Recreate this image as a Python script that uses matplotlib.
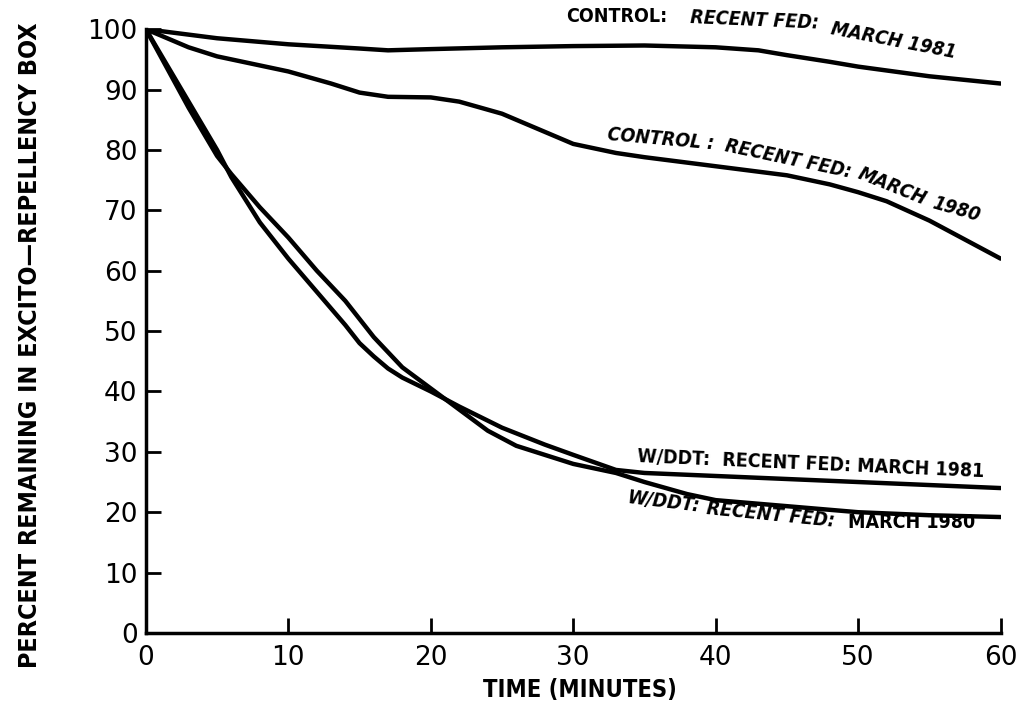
import numpy as np
import matplotlib
matplotlib.use("Agg")
from matplotlib import pyplot as plt
from matplotlib import font_manager as fm

# values (minutes, percent remaining)
ctrl81_t = [0, 5, 10, 15, 17, 20, 25, 30, 35, 40, 43, 45, 48, 50, 55, 60]
ctrl81_v = [100, 98.5, 97.5, 96.8, 96.5, 96.7, 97.0, 97.2, 97.3, 97.0, 96.5, 95.7, 94.6, 93.8, 92.2, 91.0]

ctrl80_t = [0, 3, 5, 8, 10, 13, 15, 17, 20, 22, 25, 27, 29, 30, 33, 35, 40, 45, 48, 50, 52, 55, 60]
ctrl80_v = [100, 97, 95.5, 94, 93, 91, 89.5, 88.8, 88.7, 88, 86, 84, 82, 81, 79.5, 78.8, 77.3, 75.8, 74.3, 73, 71.5, 68.3, 62]

ddt81_t = [0, 3, 5, 6, 8, 10, 12, 14, 15, 16, 17, 18, 20, 22, 25, 28, 30, 33, 35, 40, 45, 50, 55, 60]
ddt81_v = [100, 88, 80, 75.5, 68, 62, 56.5, 51, 48, 45.8, 43.8, 42.3, 40, 37.5, 34, 31.2, 29.5, 27, 26.5, 26, 25.5, 25, 24.5, 24]

ddt80_t = [0, 3, 5, 6, 8, 10, 12, 14, 16, 18, 20, 22, 24, 26, 28, 30, 33, 35, 38, 40, 45, 50, 55, 60]
ddt80_v = [100, 87, 79, 76, 70.5, 65.5, 60, 55, 49, 44, 40.5, 37, 33.5, 31, 29.5, 28, 26.5, 25, 23, 22, 21, 20, 19.5, 19.2]

x_ticks = [0, 10, 20, 30, 40, 50, 60]
y_ticks = [0, 10, 20, 30, 40, 50, 60, 70, 80, 90, 100]

# narrow bold face for the lettering, if one is installed
narrow = [f for f in fm.fontManager.ttflist
          if 'Narrow' in f.name or 'condensed' in str(f.stretch)]
if narrow:
    cond = dict(family=[narrow[0].name, 'DejaVu Sans'], fontstretch='condensed')
    lsize = 14
else:
    cond = dict(family=['Liberation Sans', 'DejaVu Sans'])
    lsize = 12

fig = plt.figure(figsize=(10.2, 7.12), dpi=100)
ax = fig.add_axes([0.143, 0.111, 0.838, 0.848])

for t, v in [(ctrl81_t, ctrl81_v), (ctrl80_t, ctrl80_v), (ddt81_t, ddt81_v), (ddt80_t, ddt80_v)]:
    ax.plot(t, v, color='black', lw=3.2, solid_joinstyle='round', solid_capstyle='round')

ax.set_xlim(0, 60)
ax.set_ylim(0, 100)
ax.spines['top'].set_visible(False)
ax.spines['right'].set_visible(False)
ax.spines['left'].set_linewidth(2.5)
ax.spines['bottom'].set_linewidth(2.5)
ax.set_xticks(x_ticks)
ax.set_yticks(y_ticks)
ax.tick_params(direction='in', length=11, width=2, labelsize=19)
ax.tick_params(axis='y', pad=6)
ax.tick_params(axis='x', pad=9)

ax.set_xlabel('TIME (MINUTES)', fontweight='bold', fontsize=lsize + 3, **cond)
ax.xaxis.set_label_coords(0.508, -0.075)
ax.set_ylabel('PERCENT REMAINING IN EXCITO\u2014REPELLENCY BOX',
              fontweight='bold', fontsize=lsize + 4, **cond)
ax.yaxis.set_label_coords(-0.122, 0.477)

# curve labels, pieces rotated to follow the lines
lab = dict(fontweight='bold', fontsize=lsize, color='black', clip_on=False,
           ha='left', va='baseline', rotation_mode='anchor', **cond)
ax.text(29.5, 101.2, 'CONTROL:', rotation=0, **lab)
ax.text(38.2, 101.0, 'RECENT FED:', rotation=-2.5, fontstyle='italic', **lab)
ax.text(48.0, 99.2, 'MARCH 1981', rotation=-11, fontstyle='italic', **lab)

ax.text(32.35, 81.6, 'CONTROL :', rotation=-5, fontstyle='italic', **lab)
ax.text(40.6, 79.9, 'RECENT FED:', rotation=-12, fontstyle='italic', **lab)
ax.text(49.9, 75.4, 'MARCH', rotation=-22, fontstyle='italic', **lab)
ax.text(55.1, 70.4, '1980', rotation=-16, fontstyle='italic', **lab)

ax.text(34.5, 28.3, 'W/DDT:  RECENT FED: MARCH 1981', rotation=-2.5, **lab)

ax.text(33.75, 21.5, 'W/DDT:', rotation=-7, fontstyle='italic', **lab)
ax.text(39.3, 19.7, 'RECENT FED:', rotation=-5.7, fontstyle='italic', **lab)
ax.text(49.3, 17.4, 'MARCH 1980', rotation=0, **lab)

fig.savefig('out.png', dpi=100)
